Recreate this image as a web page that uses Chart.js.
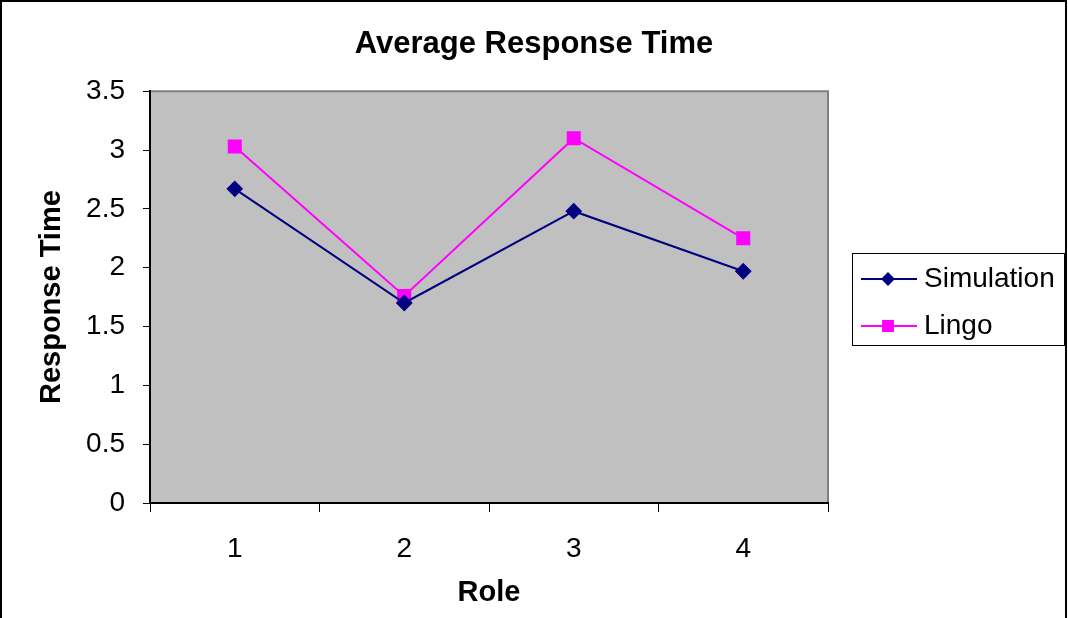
<!DOCTYPE html>
<html>
<head>
<meta charset="utf-8">
<script src="https://cdn.jsdelivr.net/npm/chart.js@4/dist/chart.umd.min.js"></script>
<style>
  body { margin: 0; background: #fff; }
  #wrap { width: 1068px; height: 618px; }
</style>
</head>
<body>
<div id="wrap"><canvas id="rt" width="1068" height="618"></canvas></div>
<script>
var roles = ["1", "2", "3", "4"];
var simulation = [2.67, 1.70, 2.48, 1.97];
var lingo = [3.03, 1.76, 3.10, 2.25];
var yTicks = [0, 0.5, 1, 1.5, 2, 2.5, 3, 3.5];

var FONT = "'Liberation Sans', Arial, sans-serif";

// grey plot background, frame around the whole picture, boxed legend on the right
var excelLook = {
  id: 'excelLook',
  beforeDraw: function(chart) {
    var ctx = chart.ctx, a = chart.chartArea;
    ctx.save();
    ctx.fillStyle = '#fff';
    ctx.fillRect(0, 0, chart.width, chart.height);
    ctx.fillStyle = '#c0c0c0';
    ctx.fillRect(a.left, a.top, a.right - a.left, a.bottom - a.top);
    ctx.strokeStyle = '#808080';
    ctx.lineWidth = 2;
    ctx.beginPath();
    ctx.moveTo(a.left, a.top);
    ctx.lineTo(a.right, a.top);
    ctx.lineTo(a.right, a.bottom);
    ctx.stroke();
    ctx.restore();
  },
  afterDraw: function(chart) {
    var ctx = chart.ctx;
    ctx.save();
    ctx.strokeStyle = '#000';
    ctx.lineWidth = 2;
    ctx.strokeRect(1, 1, 1065, 630);

    // legend
    ctx.lineWidth = 1;
    ctx.strokeStyle = '#000';
    ctx.strokeRect(852.5, 253.5, 212, 92);
    var rows = [279, 326];
    chart.data.datasets.forEach(function(ds, i) {
      var y = rows[i];
      ctx.strokeStyle = ds.borderColor;
      ctx.lineWidth = 2;
      ctx.beginPath();
      ctx.moveTo(861, y);
      ctx.lineTo(917, y);
      ctx.stroke();
      Chart.helpers.drawPoint(ctx, {pointStyle: ds.pointStyle, radius: ds.pointRadius - 1.5, borderWidth: 1}, 888, y);
      ctx.fillStyle = ds.pointBackgroundColor;
      ctx.fill();
      ctx.fillStyle = '#000';
      ctx.font = '28px ' + FONT;
      ctx.textBaseline = 'middle';
      ctx.fillText(ds.label, 924, y);
    });
    ctx.restore();
  }
};

new Chart(document.getElementById('rt'), {
  type: 'line',
  data: {
    labels: roles,
    datasets: [{
      label: 'Simulation',
      data: simulation,
      borderColor: '#000080',
      backgroundColor: '#000080',
      pointBackgroundColor: '#000080',
      pointBorderColor: '#000080',
      pointStyle: 'rectRot',
      pointRadius: 7,
      borderWidth: 2,
      tension: 0
    }, {
      label: 'Lingo',
      data: lingo,
      borderColor: '#ff00ff',
      backgroundColor: '#ff00ff',
      pointBackgroundColor: '#ff00ff',
      pointBorderColor: '#ff00ff',
      pointStyle: 'rect',
      pointRadius: 8.5,
      borderWidth: 2,
      tension: 0
    }]
  },
  options: {
    responsive: false,
    animation: false,
    layout: { padding: 0 },
    plugins: {
      legend: { display: false },
      tooltip: { enabled: false },
      title: {
        display: true,
        text: 'Average Response Time',
        color: '#000',
        font: { family: FONT, size: 31, weight: 'bold' },
        padding: { top: 26, bottom: 28 }
      }
    },
    scales: {
      x: {
        offset: true,
        grid: { offset: true, drawOnChartArea: false, drawTicks: true, tickLength: 9, color: '#000' },
        border: { display: true, color: '#000', width: 2 },
        ticks: { color: '#000', font: { family: FONT, size: 28 }, padding: 20 },
        title: { display: true, text: 'Role', color: '#000', font: { family: FONT, size: 29, weight: 'bold' }, padding: { top: 8, bottom: 8 } },
        afterFit: function(s) { s.height = 115; }
      },
      y: {
        min: 0,
        max: 3.5,
        afterBuildTicks: function(s) { s.ticks = yTicks.map(function(v) { return { value: v }; }); },
        grid: { drawOnChartArea: false, drawTicks: true, tickLength: 7, color: '#000' },
        border: { display: true, color: '#000', width: 2 },
        ticks: { color: '#000', font: { family: FONT, size: 28 }, padding: 18, callback: function(v) { return String(v); } },
        title: { display: true, text: 'Response Time', color: '#000', font: { family: FONT, size: 29, weight: 'bold' }, padding: { top: 35, bottom: 0 } },
        afterFit: function(s) { s.width = 150; }
      },
      // empty strip on the right that keeps room for the legend box
      side: {
        type: 'linear',
        position: 'right',
        axis: 'y',
        ticks: { display: false },
        grid: { display: false },
        border: { display: false },
        afterFit: function(s) { s.width = 240; }
      }
    }
  },
  plugins: [excelLook]
});
</script>
</body>
</html>
